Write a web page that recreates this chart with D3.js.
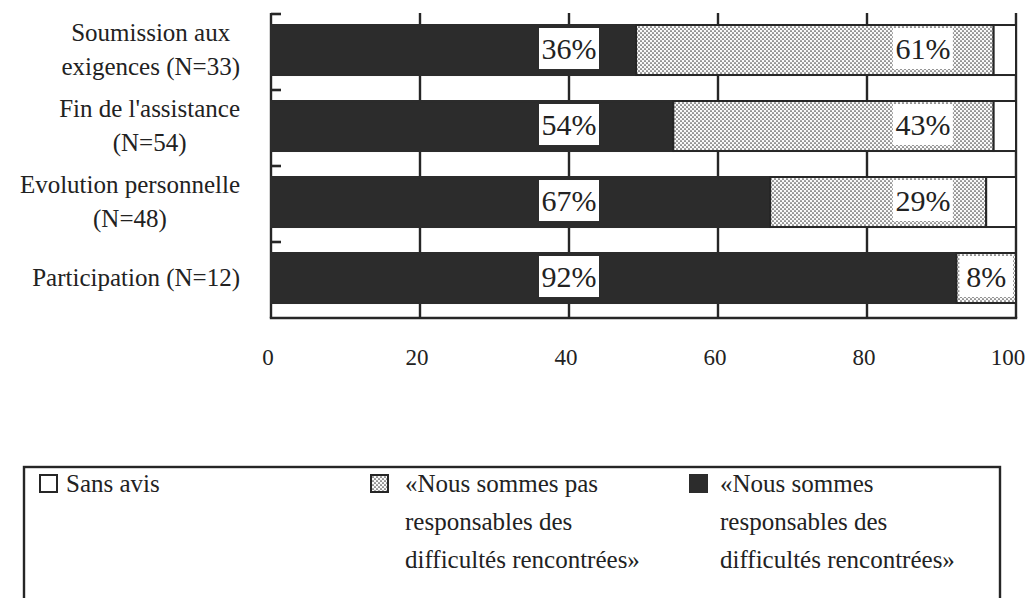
<!DOCTYPE html>
<html><head><meta charset="utf-8">
<script src="https://cdn.jsdelivr.net/npm/d3@7"></script>
<style>body{margin:0;background:#fff} svg{display:block}</style>
</head><body><svg id="c" width="1033" height="598"></svg>
<script>
const categories = ["Soumission aux exigences (N=33)", "Fin de l'assistance (N=54)", "Evolution personnelle (N=48)", "Participation (N=12)"];
const categoryLines = [["Soumission aux","exigences (N=33)"],["Fin de l'assistance","(N=54)"],["Evolution personnelle","(N=48)"],["Participation (N=12)"]];
const responsables = [49, 54, 67, 92];
const pasResponsables = [48, 43, 29, 8];
const sansAvis = [3, 3, 4, 0];
const responsablesLabels = ["36%","54%","67%","92%"];
const pasResponsablesLabels = ["61%","43%","29%","8%"];
const xTicks = [0,20,40,60,80,100];
const legendLabels = [["Sans avis"],["«Nous sommes pas","responsables des","difficultés rencontrées»"],["«Nous sommes","responsables des","difficultés rencontrées»"]];

const INK = "#262626", DARK = "#2c2c2c";
const FONT = "'Liberation Serif', 'DejaVu Serif', serif";
const svg = d3.select("#c");

const defs = svg.append("defs");
const pat = defs.append("pattern").attr("id","dots").attr("patternUnits","userSpaceOnUse").attr("width",4).attr("height",4);
pat.append("rect").attr("width",4).attr("height",4).attr("fill","#fafafa");
pat.append("circle").attr("cx",1).attr("cy",1).attr("r",0.85).attr("fill","#444");
pat.append("circle").attr("cx",3).attr("cy",3).attr("r",0.85).attr("fill","#444");

const x = d3.scaleLinear().domain([0,100]).range([271,1016]);
const y = d3.scaleBand().domain(categories).range([13,317]).padding(0);
const bw = y.bandwidth();
const barOff = bw*0.158, barH = bw*0.658;

const table = categories.map((c,i)=>({cat:c, resp:responsables[i], pas:pasResponsables[i], sans:sansAvis[i]}));
const keys = ["resp","pas","sans"];
const stack = d3.stack().keys(keys)(table);
const fills = {resp:DARK, pas:"url(#dots)", sans:"#fff"};

// frame & grid
const g = svg.append("g");
xTicks.forEach(t=>{
  g.append("line").attr("x1",x(t)).attr("x2",x(t)).attr("y1",y.range()[0]).attr("y2",318)
   .attr("stroke",INK).attr("stroke-width",2.4);
});
g.append("line").attr("x1",x(0)-1.2).attr("x2",x(100)+1.2).attr("y1",318).attr("y2",318).attr("stroke",INK).attr("stroke-width",2.4);
categories.forEach(c=>{
  g.append("line").attr("x1",x(0)).attr("x2",x(0)+10).attr("y1",y(c)+1).attr("y2",y(c)+1).attr("stroke",INK).attr("stroke-width",2.6);
});

// bars
stack.forEach(s=>{
  g.selectAll(null).data(s.filter(d=>d[1]-d[0]>0)).join("rect")
    .attr("x",d=>x(d[0]))
    .attr("y",d=>y(d.data.cat)+barOff)
    .attr("width",d=>x(d[1])-x(d[0]))
    .attr("height",barH)
    .attr("fill",fills[s.key])
    .attr("stroke", s.key==="resp"?DARK:INK)
    .attr("stroke-width",2);
});

// value labels
function label(cat, text, cx, w){
  const top = y(cat)+barOff+3, h = barH-9;
  g.append("rect").attr("x",cx-w/2).attr("y",top).attr("width",w).attr("height",h).attr("fill","#fff");
  g.append("text").attr("x",cx).attr("y",top+h/2+10).attr("text-anchor","middle")
   .attr("font-family",FONT).attr("font-size",30).attr("fill","#222").text(text);
}
table.forEach((d,i)=>{
  label(d.cat, responsablesLabels[i], x(40), 60);
  const s0 = x(d.resp), s1 = x(d.resp+d.pas);
  if (s1-s0 < 70) label(d.cat, pasResponsablesLabels[i], (s0+s1)/2, s1-s0-6);
  else label(d.cat, pasResponsablesLabels[i], x(87.5), 60);
});

// category labels
categories.forEach((c,i)=>{
  const lines = categoryLines[i];
  const cy = y(c)+barOff+barH/2;
  const gg = g.append("g");
  const ts = gg.selectAll("text").data(lines).join("text")
    .attr("font-family",FONT).attr("font-size",25).attr("fill","#222")
    .attr("text-anchor","middle")
    .attr("y",(d,j)=>cy + (j-(lines.length-1)/2)*34 + 8)
    .text(d=>d);
  let maxW = 0; ts.each(function(){maxW=Math.max(maxW,this.getComputedTextLength());});
  ts.attr("x", 240 - maxW/2);
});

// x tick labels
g.selectAll(".xt").data(xTicks).join("text")
  .attr("x",d=>d===100 ? x(d)-8 : x(d)-3).attr("y",365).attr("text-anchor","middle")
  .attr("font-family",FONT).attr("font-size",23).attr("fill","#222").text(d=>d);

// legend
g.append("rect").attr("x",24).attr("y",467).attr("width",976).attr("height",200)
  .attr("fill","none").attr("stroke",INK).attr("stroke-width",2.4);
const legFill = ["#fff","url(#dots)",DARK];
const legSq = [40, 371, 690];
const legTx = [66, 405, 720];
legendLabels.forEach((lines,i)=>{
  g.append("rect").attr("x",legSq[i]).attr("y",475).attr("width",17).attr("height",17)
    .attr("fill",legFill[i]).attr("stroke",i===2?DARK:INK).attr("stroke-width",2);
  g.selectAll(null).data(lines).join("text")
    .attr("x",legTx[i]).attr("y",(d,j)=>492+j*38)
    .attr("font-family",FONT).attr("font-size",25).attr("fill","#222").text(d=>d);
});
</script></body></html>
